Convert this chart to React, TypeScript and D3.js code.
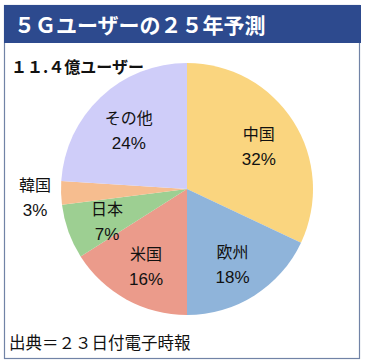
import * as React from "react";
import * as d3 from "d3";

const regions = ["中国", "欧州", "米国", "日本", "韓国", "その他"];
const shares = [32, 18, 16, 7, 3, 24];
const colors = ["#fad57f", "#8fb4da", "#eb9b8b", "#9dcf92", "#f6bd8f", "#cfcdf9"];

const title = "５Ｇユーザーの２５年予測";
const subtitle = "１１.４億ユーザー";
const source = "出典＝２３日付電子時報";

const W = 366;
const H = 363;
const FONT = "'Noto Sans CJK JP', 'Noto Sans', sans-serif";
const NUMFONT = "'Liberation Sans', Arial, sans-serif";

function drawChart(svgEl: SVGSVGElement) {
  const svg = d3.select(svgEl);
  svg.selectAll("*").remove();

  // frame + title bar
  svg.append("rect")
    .attr("x", 4.5).attr("y", 5.5).attr("width", 355).attr("height", 353)
    .attr("fill", "#fff").attr("stroke", "#7183a6").attr("stroke-width", 1.2);
  svg.append("rect")
    .attr("x", 4).attr("y", 5).attr("width", 357).attr("height", 38)
    .attr("fill", "#2d4a8e");
  svg.append("text")
    .attr("x", 14).attr("y", 33)
    .attr("font-family", FONT).attr("font-size", 21).attr("font-weight", "bold")
    .attr("fill", "#fff")
    .text(title);
  svg.append("text")
    .attr("x", 11).attr("y", 73)
    .attr("font-family", FONT).attr("font-size", 16).attr("font-weight", "bold")
    .attr("fill", "#111")
    .text(subtitle);
  svg.append("text")
    .attr("x", 9).attr("y", 349)
    .attr("font-family", FONT).attr("font-size", 16.5)
    .attr("fill", "#111")
    .text(source);

  const cx = 187, cy = 189, r = 126;
  const pie = d3.pie<number>().value(d => d).sort(null);
  const arcs = pie(shares);
  const arc = d3.arc<d3.PieArcDatum<number>>().innerRadius(0).outerRadius(r);
  const labelArc = d3.arc<d3.PieArcDatum<number>>();

  const g = svg.append("g").attr("transform", `translate(${cx},${cy})`);
  g.selectAll("path")
    .data(arcs)
    .join("path")
    .attr("d", arc)
    .attr("fill", (_, i) => colors[i]);

  const labels = g.selectAll("g.lbl")
    .data(arcs)
    .join("g")
    .attr("class", "lbl")
    .attr("transform", d => {
      // small slices get their label outside the pie
      const rr = d.data < 5 ? 152 : 85;
      const [x, y] = labelArc.innerRadius(rr).outerRadius(rr).centroid(d);
      return `translate(${x},${y})`;
    });
  labels.append("text")
    .attr("text-anchor", "middle").attr("y", -3)
    .attr("font-family", FONT).attr("font-size", 16).attr("fill", "#111")
    .text((_, i) => regions[i]);
  labels.append("text")
    .attr("text-anchor", "middle").attr("y", 22)
    .attr("font-family", NUMFONT).attr("font-size", 17).attr("fill", "#111")
    .text(d => d.data + "%");
}

const App = () => {
  const ref = React.useRef<SVGSVGElement>(null);
  React.useEffect(() => {
    if (ref.current) drawChart(ref.current);
  }, []);
  return (
    <svg ref={ref} width={W} height={H}
      style={{ position: "absolute", left: 0, top: 0, background: "#fff" }} />
  );
};

export default App;
